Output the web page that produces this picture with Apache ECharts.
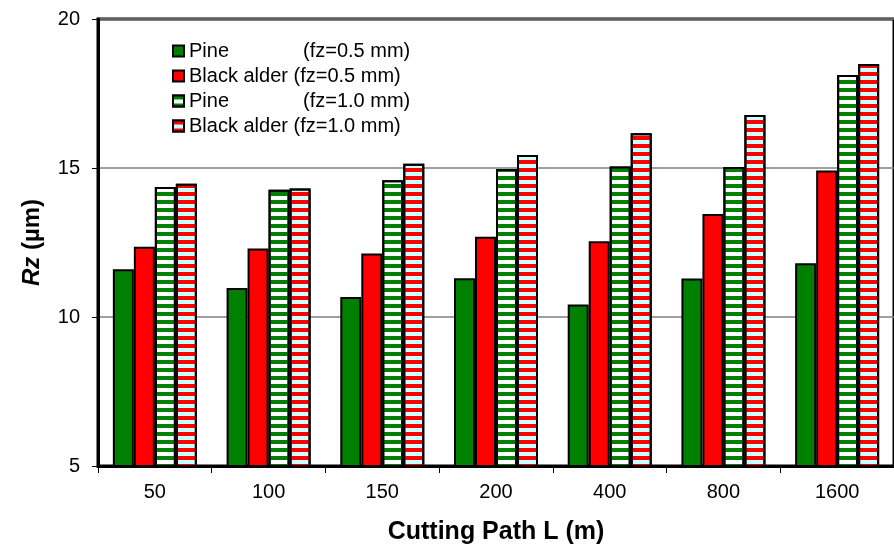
<!DOCTYPE html>
<html>
<head>
<meta charset="utf-8">
<script src="https://cdn.jsdelivr.net/npm/echarts@6/dist/echarts.min.js"></script>
<style>
  html, body { margin: 0; padding: 0; background: #fff; }
  #chart { width: 894px; height: 550px; }
</style>
</head>
<body>
<div id="chart"></div>
<script>
const FONT = '"Liberation Sans", Arial, sans-serif'

const categories = ['50', '100', '150', '200', '400', '800', '1600']
const yTicks = [5, 10, 15, 20]

const pine05 = [11.60, 10.97, 10.67, 11.30, 10.42, 11.29, 11.80]
const alder05 = [12.36, 12.30, 12.13, 12.69, 12.54, 13.46, 14.92]
const pine10 = [14.36, 14.27, 14.59, 14.97, 15.05, 15.03, 18.12]
const alder10 = [14.47, 14.31, 15.14, 15.44, 16.17, 16.78, 18.49]

const GREEN = '#008000'
const RED = '#ff0000'
const CYAN = '#ccffff'

function stripes(color) {
  return { symbol: 'rect', symbolSize: 1, dashArrayX: [10, 0], dashArrayY: [4, 4], rotation: 0, color }
}

const SERIES = [
  { name: 'Pine (fz=0.5 mm)', data: pine05, color: GREEN },
  { name: 'Black alder (fz=0.5 mm)', data: alder05, color: RED },
  { name: 'Pine (fz=1.0 mm)', data: pine10, color: '#ffffff', decal: stripes(GREEN) },
  { name: 'Black alder (fz=1.0 mm)', data: alder10, color: CYAN, decal: stripes(RED) },
]

const chart = echarts.init(document.getElementById('chart'), null, { renderer: 'canvas' })

chart.setOption({
  animation: false,
  backgroundColor: '#fff',
  textStyle: { fontFamily: FONT },
  grid: { left: 98, top: 19, width: 805, height: 448, show: true, borderColor: '#000', borderWidth: 3, backgroundColor: '#fff' },
  legend: {
    orient: 'vertical',
    left: 172,
    top: 41,
    padding: 0,
    itemWidth: 11,
    itemHeight: 11,
    itemGap: 5,
    icon: 'rect',
    textStyle: {
      fontFamily: FONT,
      fontSize: 20,
      lineHeight: 20,
      color: '#000',
      rich: { a: { fontFamily: FONT, fontSize: 20, width: 114 }, b: { fontFamily: FONT, fontSize: 20 } },
    },
    formatter: (name) => {
      const i = name.indexOf('(')
      const label = name.slice(0, i).trim()
      if (label === 'Pine') return `{a|${label}}{b|${name.slice(i)}}`
      return name
    },
  },
  xAxis: {
    type: 'category',
    data: categories,
    name: 'Cutting Path L (m)',
    nameLocation: 'middle',
    nameGap: 54,
    nameTextStyle: { fontFamily: FONT, fontSize: 25, fontWeight: 'bold', color: '#000' },
    axisLine: { lineStyle: { color: '#000', width: 3 } },
    axisTick: { show: true, alignWithLabel: false, length: 7, lineStyle: { color: '#000', width: 1 } },
    axisLabel: { fontFamily: FONT, fontSize: 20, color: '#000', margin: 16 },
    splitLine: { show: false },
  },
  yAxis: {
    type: 'value',
    min: 5,
    max: 20,
    interval: 5,
    name: '{i|Rz} (µm)',
    nameLocation: 'middle',
    nameGap: 54,
    nameRotate: 90,
    nameTextStyle: {
      fontFamily: FONT, fontSize: 24, fontWeight: 'bold', color: '#000',
      rich: { i: { fontFamily: FONT, fontSize: 24, fontWeight: 'bold', fontStyle: 'italic', color: '#000' } },
    },
    axisLine: { show: true, lineStyle: { color: '#000', width: 3 } },
    axisTick: { show: true, length: 6, lineStyle: { color: '#000', width: 1 } },
    axisLabel: { fontFamily: FONT, fontSize: 20, color: '#000', margin: 18, formatter: (v) => (yTicks.includes(v) ? String(v) : '') },
    splitLine: { lineStyle: { color: '#808080', width: 1.5 } },
  },
  series: SERIES.map((s) => ({
    name: s.name,
    type: 'bar',
    data: s.data,
    barWidth: 21,
    barGap: '0%',
    itemStyle: { color: s.color, borderColor: '#000', borderWidth: 2, decal: s.decal },
  })),
})
</script>
</body>
</html>
